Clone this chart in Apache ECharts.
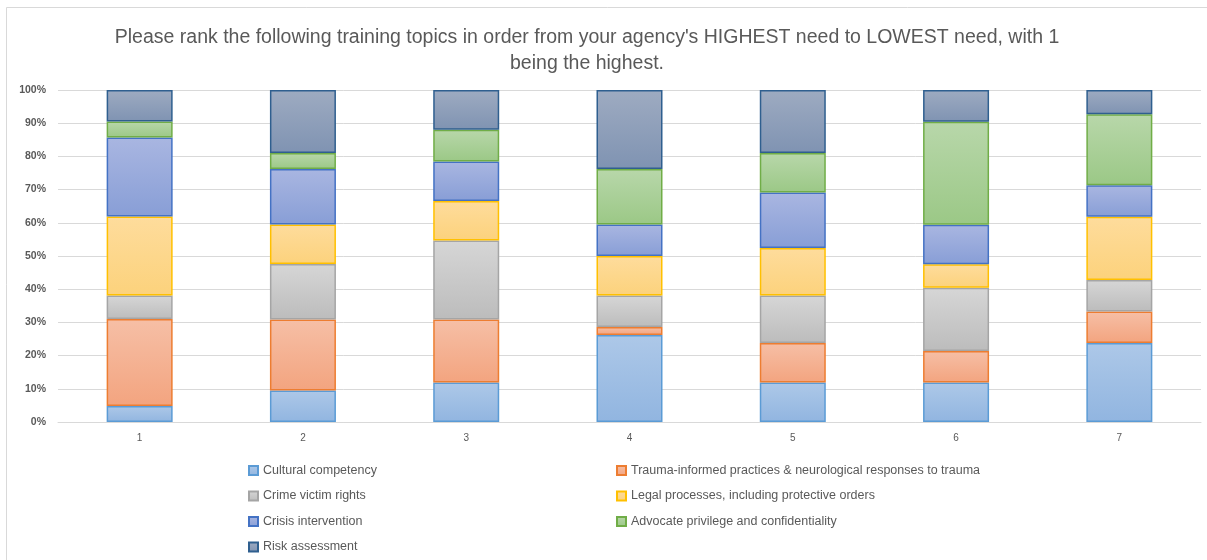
<!DOCTYPE html>
<html>
<head>
<meta charset="utf-8">
<script src="https://cdn.jsdelivr.net/npm/echarts@6/dist/echarts.min.js"></script>
<style>
html,body{margin:0;padding:0;background:#fff;}
#chart{width:1207px;height:560px;}
</style>
</head>
<body>
<div id="chart"></div>
<script>
const titleText = "Please rank the following training topics in order from your agency's HIGHEST need to LOWEST need, with 1\nbeing the highest.";
const categories = ['1', '2', '3', '4', '5', '6', '7'];
const yTicks = [0, 10, 20, 30, 40, 50, 60, 70, 80, 90, 100];

const seriesNames = [
  'Cultural competency',
  'Trauma-informed practices & neurological responses to trauma',
  'Crime victim rights',
  'Legal processes, including protective orders',
  'Crisis intervention',
  'Advocate privilege and confidentiality',
  'Risk assessment'
];

const culturalCompetency = [4.8, 9.5, 11.9, 26.2, 11.9, 11.9, 23.8];
const traumaInformed     = [26.2, 21.4, 19.0, 2.4, 11.9, 9.5, 9.5];
const crimeVictimRights  = [7.1, 16.7, 23.8, 9.5, 14.3, 19.0, 9.5];
const legalProcesses     = [23.8, 11.9, 11.9, 11.9, 14.3, 7.1, 19.0];
const crisisIntervention = [23.8, 16.7, 11.9, 9.5, 16.7, 11.9, 9.5];
const advocatePrivilege  = [4.8, 4.8, 9.5, 16.7, 11.9, 31.0, 21.4];
const riskAssessment     = [9.5, 19.0, 12.0, 23.8, 19.0, 9.6, 7.3];

const seriesValues = [culturalCompetency, traumaInformed, crimeVictimRights, legalProcesses, crisisIntervention, advocatePrivilege, riskAssessment];

const styles = [
  {top: '#adc8e8', bottom: '#91b5e0', border: '#5B9BD5'},
  {top: '#f6bfa6', bottom: '#f3a47f', border: '#ED7D31'},
  {top: '#d6d6d6', bottom: '#bcbcbc', border: '#A5A5A5'},
  {top: '#fedc9c', bottom: '#fcd27c', border: '#FFC000'},
  {top: '#a9b6e1', bottom: '#889ed6', border: '#4472C4'},
  {top: '#b8d7aa', bottom: '#9bc886', border: '#70AD47'},
  {top: '#9eabc1', bottom: '#7f93b2', border: '#2F5F8F'}
];

const chart = echarts.init(document.getElementById('chart'), null, {renderer: 'canvas'});

const series = seriesNames.map((name, i) => ({
  name: name,
  type: 'bar',
  stack: 'total',
  barWidth: 66,
  data: seriesValues[i],
  itemStyle: {
    color: new echarts.graphic.LinearGradient(0, 0, 0, 1, [
      {offset: 0, color: styles[i].top},
      {offset: 1, color: styles[i].bottom}
    ]),
    borderColor: styles[i].border,
    borderWidth: 1.5
  },
  emphasis: {disabled: true}
}));

const legendText = {color: '#595959', fontSize: 12.5, fontFamily: 'Liberation Sans, sans-serif'};

const option = {
  animation: false,
  backgroundColor: '#ffffff',
  title: {
    text: titleText,
    left: 582,
    textAlign: 'center',
    top: 20,
    textStyle: {
      color: '#595959',
      fontSize: 19.5,
      fontWeight: 'normal',
      lineHeight: 26,
      fontFamily: 'Liberation Sans, sans-serif'
    }
  },
  graphic: [{
    type: 'rect',
    shape: {x: 6.5, y: 7.5, width: 1300, height: 700},
    style: {fill: 'none', stroke: '#d9d9d9', lineWidth: 1},
    silent: true,
    z: -1
  }],
  legend: [
    {
      orient: 'vertical',
      left: 243,
      top: 459,
      itemGap: 12.5,
      itemWidth: 9,
      itemHeight: 9,
      icon: 'rect',
      data: [seriesNames[0], seriesNames[2], seriesNames[4], seriesNames[6]],
      textStyle: legendText,
      selectedMode: false
    },
    {
      orient: 'vertical',
      left: 611,
      top: 459,
      itemGap: 12.5,
      itemWidth: 9,
      itemHeight: 9,
      icon: 'rect',
      data: [seriesNames[1], seriesNames[3], seriesNames[5]],
      textStyle: legendText,
      selectedMode: false
    }
  ],
  grid: {left: 58, right: 6, top: 90, bottom: 138, containLabel: false},
  xAxis: {
    type: 'category',
    data: categories,
    axisLine: {show: true, lineStyle: {color: '#d9d9d9', width: 1}},
    axisTick: {show: false},
    axisLabel: {color: '#595959', fontSize: 10, margin: 11, fontFamily: 'Liberation Sans, sans-serif'}
  },
  yAxis: {
    type: 'value',
    min: yTicks[0],
    max: yTicks[yTicks.length - 1],
    interval: yTicks[1] - yTicks[0],
    axisLine: {show: false},
    axisTick: {show: false},
    axisLabel: {
      formatter: '{value}%',
      color: '#595959',
      fontSize: 10.5,
      fontWeight: 'bold',
      margin: 12,
      fontFamily: 'Liberation Sans, sans-serif'
    },
    splitLine: {lineStyle: {color: '#d9d9d9', width: 1}}
  },
  series: series
};

chart.setOption(option);
</script>
</body>
</html>
